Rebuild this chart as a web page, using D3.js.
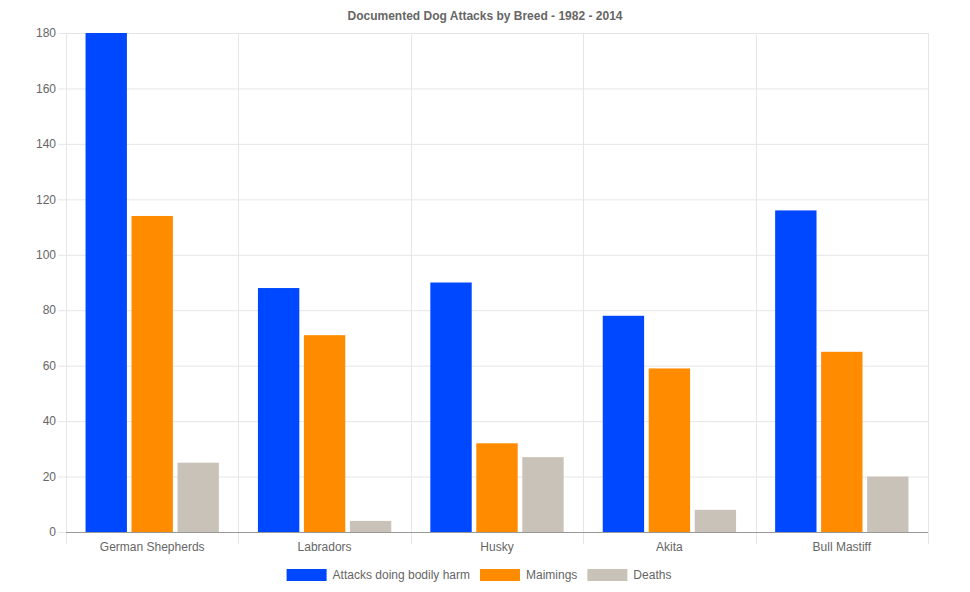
<!DOCTYPE html>
<html>
<head>
<meta charset="utf-8">
<script src="https://cdn.jsdelivr.net/npm/d3@7"></script>
<style>
  html, body { margin: 0; padding: 0; background: #fff; }
  svg { display: block; font-family: "Liberation Sans", Arial, sans-serif; }
</style>
</head>
<body>
<div id="chart"></div>
<script>
const breeds = ["German Shepherds", "Labradors", "Husky", "Akita", "Bull Mastiff"];
const seriesNames = ["Attacks doing bodily harm", "Maimings", "Deaths"];
const attacks = [180, 88, 90, 78, 116];
const maimings = [114, 71, 32, 59, 65];
const deaths = [25, 4, 27, 8, 20];
const yTicks = [0, 20, 40, 60, 80, 100, 120, 140, 160, 180];
const colors = ["#0048ff", "#ff8c00", "#c9c2b8"];

(function () {
  const width = 970, height = 592;
  const margin = { top: 33, right: 42, bottom: 60, left: 66 };
  const innerWidth = width - margin.left - margin.right;
  const innerHeight = height - margin.top - margin.bottom;

  const series = [attacks, maimings, deaths];

  const svg = d3.select("#chart").append("svg")
    .attr("width", width)
    .attr("height", height);

  svg.append("text")
    .attr("x", width / 2)
    .attr("y", 20)
    .attr("text-anchor", "middle")
    .attr("font-size", 12)
    .attr("font-weight", "bold")
    .attr("fill", "#666")
    .text("Documented Dog Attacks by Breed - 1982 - 2014");

  const g = svg.append("g")
    .attr("transform", `translate(${margin.left},${margin.top})`);

  const x = d3.scaleBand()
    .domain(breeds)
    .range([0, innerWidth])
    .paddingInner(0)
    .paddingOuter(0);

  const x1 = d3.scaleBand()
    .domain(d3.range(seriesNames.length))
    .range([x.bandwidth() * 0.1, x.bandwidth() * 0.9]);

  const y = d3.scaleLinear()
    .domain([0, 180])
    .range([innerHeight, 0]);

  // horizontal grid
  g.append("g")
    .selectAll("line")
    .data(yTicks)
    .join("line")
    .attr("x1", -8)
    .attr("x2", innerWidth)
    .attr("y1", d => y(d) + 0.5)
    .attr("y2", d => y(d) + 0.5)
    .attr("stroke", "#e6e6e6");

  // vertical grid at category boundaries
  const bounds = d3.range(breeds.length + 1).map(i => i * x.step());
  g.append("g")
    .selectAll("line")
    .data(bounds)
    .join("line")
    .attr("x1", d => Math.round(d) + 0.5)
    .attr("x2", d => Math.round(d) + 0.5)
    .attr("y1", 0)
    .attr("y2", innerHeight + 12)
    .attr("stroke", "#e6e6e6");

  // y tick labels
  g.append("g")
    .selectAll("text")
    .data(yTicks)
    .join("text")
    .attr("x", -10)
    .attr("y", d => y(d))
    .attr("dy", "0.35em")
    .attr("text-anchor", "end")
    .attr("font-size", 12)
    .attr("fill", "#666")
    .text(d => d);

  // bars
  const groups = g.append("g")
    .selectAll("g")
    .data(breeds)
    .join("g")
    .attr("transform", d => `translate(${x(d)},0)`);

  groups.selectAll("rect")
    .data((d, i) => series.map((s, k) => ({ k, v: s[i] })))
    .join("rect")
    .attr("x", d => x1(d.k) + x1.bandwidth() * 0.05)
    .attr("width", x1.bandwidth() * 0.9)
    .attr("y", d => y(d.v))
    .attr("height", d => innerHeight - y(d.v))
    .attr("fill", d => colors[d.k]);

  // x axis line
  g.append("line")
    .attr("x1", 0)
    .attr("x2", innerWidth)
    .attr("y1", innerHeight + 0.5)
    .attr("y2", innerHeight + 0.5)
    .attr("stroke", "#999");

  // x labels
  g.append("g")
    .selectAll("text")
    .data(breeds)
    .join("text")
    .attr("x", d => x(d) + x.bandwidth() / 2)
    .attr("y", innerHeight + 19)
    .attr("text-anchor", "middle")
    .attr("font-size", 12)
    .attr("fill", "#666")
    .text(d => d);

  // legend
  const legend = svg.append("g").attr("font-size", 12).attr("fill", "#666");
  const items = [];
  seriesNames.forEach((name, i) => {
    const it = legend.append("g");
    it.append("rect")
      .attr("x", 0).attr("y", 0)
      .attr("width", 40).attr("height", 12)
      .attr("fill", colors[i]);
    const t = it.append("text")
      .attr("x", 46).attr("y", 6).attr("dy", "0.35em")
      .text(name);
    const w = 46 + t.node().getComputedTextLength();
    items.push({ it, w });
  });
  const gap = 10;
  const total = d3.sum(items, d => d.w) + gap * (items.length - 1);
  let lx = (width - total) / 2 - 6;
  items.forEach(d => {
    d.it.attr("transform", `translate(${lx},569)`);
    lx += d.w + gap;
  });
})();
</script>
</body>
</html>
